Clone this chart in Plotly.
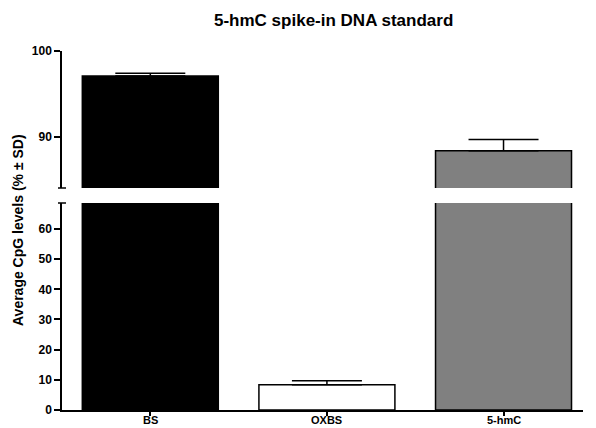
import plotly.graph_objects as go

categories = ["BS", "OXBS", "5-hmC"]
means = [97.1, 8.4, 88.4]
sds = [0.3, 1.3, 1.3]
bar_colors = ["#000000", "#ffffff", "#808080"]
lower_ticks = [0, 10, 20, 30, 40, 50, 60]
upper_ticks = [90, 100]

W, H = 596, 428


def py(p):
    return 1 - p / H


def px(p):
    return p / W


FONT = "Liberation Sans"

fig = go.Figure()
for ax in ["y", "y2"]:
    fig.add_trace(go.Bar(
        x=categories, y=means, xaxis="x", yaxis=ax,
        width=0.77,
        marker=dict(color=bar_colors, line=dict(color="black", width=1.5)),
        error_y=dict(type="data", array=sds, arrayminus=[0] * len(sds), symmetric=False,
                     color="black", thickness=1.5, width=35),
        showlegend=False, hoverinfo="skip",
    ))

axis_common = dict(showline=True, linecolor="black", linewidth=1.5, ticks="outside",
                   tickcolor="black", tickwidth=1.5, showgrid=False, zeroline=False,
                   automargin=False,
                   tickfont=dict(family=FONT, size=12, color="black", weight="bold"))

cat_annotations = [
    dict(text=c, x=c, y=py(420), xref="x", yref="paper", showarrow=False,
         xanchor="center", yanchor="middle", borderpad=0,
         font=dict(family=FONT, size=11, color="black", weight="bold"))
    for c in categories
]

fig.update_layout(
    width=W, height=H,
    margin=dict(l=0, r=0, t=0, b=0),
    paper_bgcolor="white", plot_bgcolor="white",
    xaxis=dict(domain=[px(62), px(583)], range=[-0.5, 2.45], anchor="y",
               showticklabels=False, **{**axis_common, "ticklen": 4}),
    yaxis=dict(domain=[py(410), py(203)], range=[0, 68.6], anchor="x",
               tickvals=lower_ticks, ticklen=6, **axis_common),
    yaxis2=dict(domain=[py(188), py(51)], range=[84.07, 100], anchor="x",
                tickvals=upper_ticks, ticklen=6, **axis_common),
    annotations=[
        dict(text="5-hmC spike-in DNA standard", x=px(333), y=py(20), xref="paper", yref="paper",
             showarrow=False, xanchor="center", yanchor="middle",
             font=dict(family=FONT, size=17, color="black", weight="bold")),
        dict(text="Average CpG levels (% ± SD)", x=px(18), y=py(230), xref="paper", yref="paper",
             showarrow=False, xanchor="center", yanchor="middle", textangle=-90,
             font=dict(family=FONT, size=14, color="black", weight="bold")),
    ] + cat_annotations,
    shapes=[
        dict(type="line", xref="paper", yref="paper", x0=px(58), x1=px(66), y0=py(188), y1=py(188),
             line=dict(color="black", width=1.5)),
        dict(type="line", xref="paper", yref="paper", x0=px(58), x1=px(66), y0=py(203), y1=py(203),
             line=dict(color="black", width=1.5)),
    ],
)

fig.write_html("out.html")
